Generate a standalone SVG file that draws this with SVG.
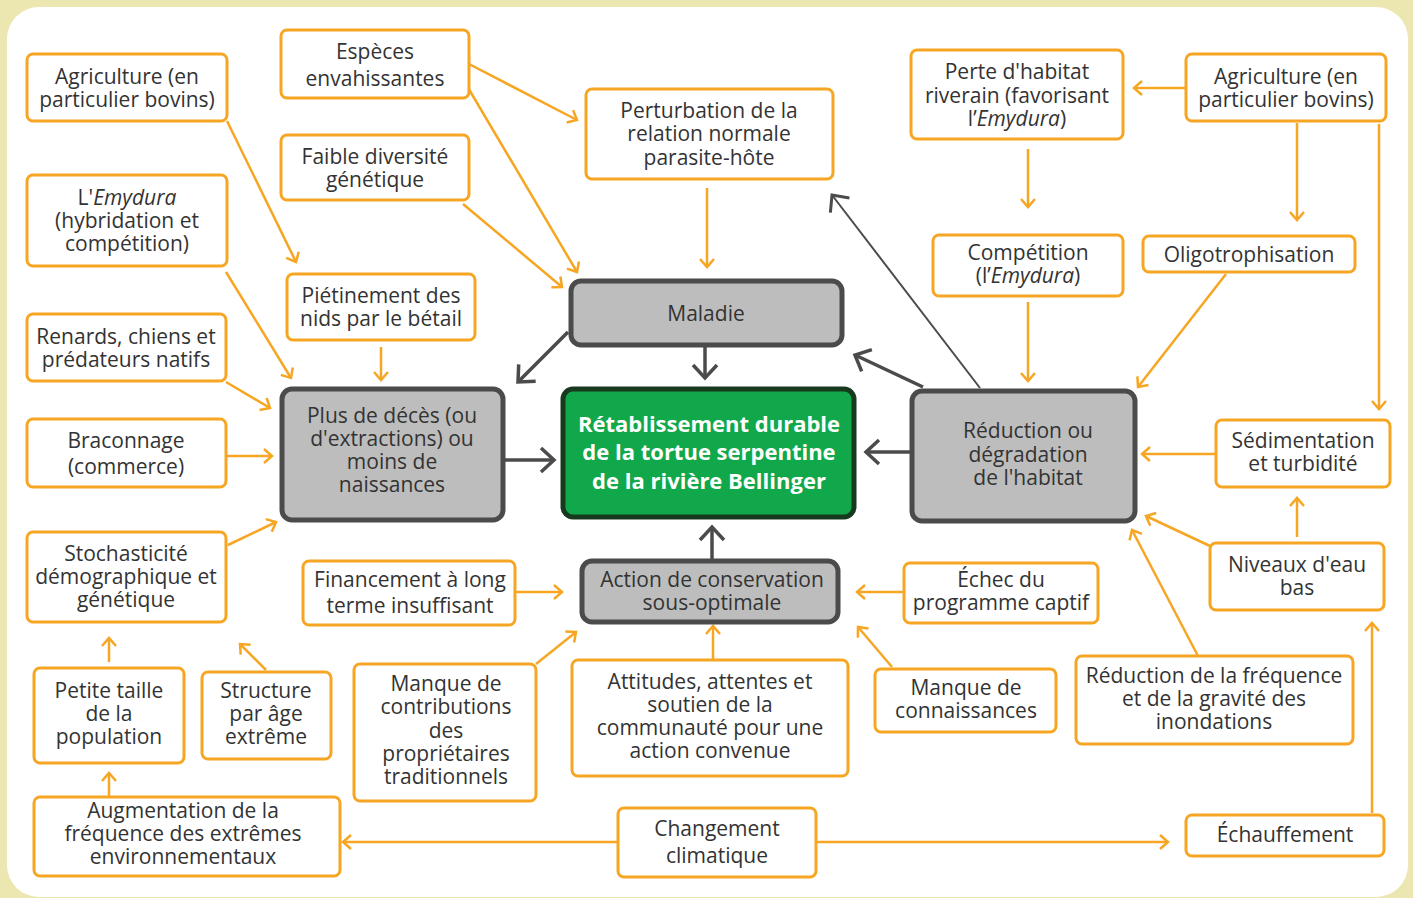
<svg xmlns="http://www.w3.org/2000/svg" width="1413" height="898" viewBox="0 0 1413 898">
<defs>
<style>
.o{fill:#fff;stroke:#f6a623;stroke-width:3}
.g{fill:#bdbdbd;stroke:#4b4b4b;stroke-width:5}
.t{font-family:"Open Sans","Noto Sans","Liberation Sans",sans-serif;font-size:21px;fill:#333;text-anchor:middle}
.tb{font-family:"Open Sans","Noto Sans","Liberation Sans",sans-serif;font-size:22px;font-weight:bold;fill:#fff;text-anchor:middle}
.co{fill:none;stroke:#f6a623;stroke-width:2.5;marker-end:url(#mo)}
.cg{fill:none;stroke:#4b4b4b;stroke-width:3.5;marker-end:url(#mg)}
.ct{fill:none;stroke:#4b4b4b;stroke-width:2;marker-end:url(#mt)}
</style>
<marker id="mo" markerUnits="userSpaceOnUse" markerWidth="20" markerHeight="20" refX="12" refY="9" orient="auto"><path d="M4,2 L12,9 L4,16" fill="none" stroke="#f6a623" stroke-width="2.5"/></marker>
<marker id="mg" markerUnits="userSpaceOnUse" markerWidth="30" markerHeight="30" refX="16" refY="14" orient="auto"><path d="M3,2 L16,14 L3,26" fill="none" stroke="#4b4b4b" stroke-width="3.5"/></marker>
<marker id="mt" markerUnits="userSpaceOnUse" markerWidth="30" markerHeight="30" refX="16" refY="14" orient="auto"><path d="M3,2 L16,14 L3,26" fill="none" stroke="#4b4b4b" stroke-width="3"/></marker>
</defs>
<rect x="0" y="0" width="1413" height="898" fill="#ece6b0"/>
<rect x="7" y="7" width="1401" height="890" rx="32" fill="#fff"/>

<g id="connectors">
<path class="co" d="M227,121 L296,262"/>
<path class="co" d="M469,64 L577,120"/>
<path class="co" d="M467,86 L577,272"/>
<path class="co" d="M463,204 L562,287"/>
<path class="co" d="M226,272 L291,378"/>
<path class="co" d="M381,347 L381,380"/>
<path class="co" d="M226,382 L270,408"/>
<path class="co" d="M226,456 L272,456"/>
<path class="co" d="M228,545 L276,522"/>
<path class="co" d="M109,662 L109,638"/>
<path class="co" d="M266,670 L240,644"/>
<path class="co" d="M109,797 L109,773"/>
<path class="co" d="M618,842 L343,842"/>
<path class="co" d="M816,842 L1168,842"/>
<path class="co" d="M516,592 L562,592"/>
<path class="co" d="M536,664 L576,632"/>
<path class="co" d="M713,660 L713,626"/>
<path class="co" d="M904,592 L857,592"/>
<path class="co" d="M892,667 L858,627"/>
<path class="co" d="M707,188 L707,267"/>
<path class="co" d="M1028,149 L1028,207"/>
<path class="co" d="M1186,88 L1134,88"/>
<path class="co" d="M1297,123 L1297,220"/>
<path class="co" d="M1379,124 L1379,409"/>
<path class="co" d="M1028,302 L1028,381"/>
<path class="co" d="M1226,274 L1138,387"/>
<path class="co" d="M1216,454 L1142,454"/>
<path class="co" d="M1297,537 L1297,498"/>
<path class="co" d="M1210,546 L1146,516"/>
<path class="co" d="M1198,656 L1132,530"/>
<path class="co" d="M1372,813 L1372,623"/>
<path class="cg" d="M568,332 L518,382"/>
<path class="cg" d="M705,347 L705,378"/>
<path class="cg" d="M505,460 L554,460"/>
<path class="cg" d="M912,452 L866,452"/>
<path class="cg" d="M712,560 L712,527"/>
<path class="cg" d="M923,387 L855,355"/>
<path class="ct" d="M980,388 L832,195"/>
</g>

<g id="agri-left"><rect class="o" x="27" y="54" width="200" height="67" rx="6"/><text class="t"><tspan x="127" y="84">Agriculture (en</tspan><tspan x="127" y="107">particulier bovins)</tspan></text></g>
<g id="emydura-left"><rect class="o" x="27" y="175" width="200" height="91" rx="6"/><text class="t"><tspan x="127" y="205">L'<tspan font-style="italic">Emydura</tspan></tspan><tspan x="127" y="228">(hybridation et</tspan><tspan x="127" y="251">compétition)</tspan></text></g>
<g id="renards"><rect class="o" x="27" y="314" width="199" height="67" rx="6"/><text class="t"><tspan x="126" y="344">Renards, chiens et</tspan><tspan x="126" y="367">prédateurs natifs</tspan></text></g>
<g id="braconnage"><rect class="o" x="27" y="419" width="199" height="68" rx="6"/><text class="t"><tspan x="126" y="448">Braconnage</tspan><tspan x="126" y="474">(commerce)</tspan></text></g>
<g id="stochasticite"><rect class="o" x="27" y="532" width="199" height="90" rx="6"/><text class="t"><tspan x="126" y="561">Stochasticité</tspan><tspan x="126" y="584">démographique et</tspan><tspan x="126" y="607">génétique</tspan></text></g>
<g id="petite-taille"><rect class="o" x="34" y="668" width="150" height="95" rx="6"/><text class="t"><tspan x="109" y="698">Petite taille</tspan><tspan x="109" y="721">de la</tspan><tspan x="109" y="744">population</tspan></text></g>
<g id="structure"><rect class="o" x="202" y="672" width="129" height="87" rx="6"/><text class="t"><tspan x="266" y="698">Structure</tspan><tspan x="266" y="721">par âge</tspan><tspan x="266" y="744">extrême</tspan></text></g>
<g id="augmentation"><rect class="o" x="34" y="797" width="306" height="79" rx="6"/><text class="t"><tspan x="183" y="818">Augmentation de la</tspan><tspan x="183" y="841">fréquence des extrêmes</tspan><tspan x="183" y="864">environnementaux</tspan></text></g>

<g id="especes"><rect class="o" x="281" y="30" width="188" height="68" rx="6"/><text class="t"><tspan x="375" y="59">Espèces</tspan><tspan x="375" y="86">envahissantes</tspan></text></g>
<g id="faible-diversite"><rect class="o" x="281" y="135" width="188" height="65" rx="6"/><text class="t"><tspan x="375" y="164">Faible diversité</tspan><tspan x="375" y="187">génétique</tspan></text></g>
<g id="pietinement"><rect class="o" x="287" y="274" width="188" height="66" rx="6"/><text class="t"><tspan x="381" y="303">Piétinement des</tspan><tspan x="381" y="326">nids par le bétail</tspan></text></g>
<g id="plus-deces"><rect class="g" x="282" y="389" width="221" height="131" rx="10"/><text class="t"><tspan x="392" y="423">Plus de décès (ou</tspan><tspan x="392" y="446">d'extractions) ou</tspan><tspan x="392" y="469">moins de</tspan><tspan x="392" y="492">naissances</tspan></text></g>
<g id="financement"><rect class="o" x="303" y="561" width="212" height="64" rx="6"/><text class="t"><tspan x="410" y="587">Financement à long</tspan><tspan x="410" y="613">terme insuffisant</tspan></text></g>
<g id="manque-contrib"><rect class="o" x="354" y="664" width="182" height="137" rx="6"/><text class="t"><tspan x="446" y="691">Manque de</tspan><tspan x="446" y="714">contributions</tspan><tspan x="446" y="738">des</tspan><tspan x="446" y="761">propriétaires</tspan><tspan x="446" y="784">traditionnels</tspan></text></g>

<g id="perturbation"><rect class="o" x="586" y="89" width="247" height="90" rx="6"/><text class="t"><tspan x="709" y="118">Perturbation de la</tspan><tspan x="709" y="141">relation normale</tspan><tspan x="709" y="165">parasite-hôte</tspan></text></g>
<g id="maladie"><rect class="g" x="571" y="281" width="271" height="64" rx="10"/><text class="t"><tspan x="706" y="321">Maladie</tspan></text></g>
<g id="retablissement"><rect x="563" y="389" width="291" height="128" rx="10" fill="#10a84b" stroke="#173a1e" stroke-width="5"/><text class="tb"><tspan x="709" y="432">Rétablissement durable</tspan><tspan x="709" y="460">de la tortue serpentine</tspan><tspan x="709" y="489">de la rivière Bellinger</tspan></text></g>
<g id="action"><rect class="g" x="582" y="561" width="256" height="61" rx="10"/><text class="t"><tspan x="712" y="587">Action de conservation</tspan><tspan x="712" y="610">sous-optimale</tspan></text></g>
<g id="attitudes"><rect class="o" x="572" y="660" width="276" height="116" rx="6"/><text class="t"><tspan x="710" y="689">Attitudes, attentes et</tspan><tspan x="710" y="712">soutien de la</tspan><tspan x="710" y="735">communauté pour une</tspan><tspan x="710" y="758">action convenue</tspan></text></g>
<g id="changement"><rect class="o" x="618" y="808" width="198" height="69" rx="6"/><text class="t"><tspan x="717" y="836">Changement</tspan><tspan x="717" y="863">climatique</tspan></text></g>

<g id="perte-habitat"><rect class="o" x="911" y="50" width="212" height="89" rx="6"/><text class="t"><tspan x="1017" y="79">Perte d'habitat</tspan><tspan x="1017" y="103">riverain (favorisant</tspan><tspan x="1017" y="126">l’<tspan font-style="italic">Emydura</tspan>)</tspan></text></g>
<g id="agri-right"><rect class="o" x="1186" y="54" width="200" height="67" rx="6"/><text class="t"><tspan x="1286" y="84">Agriculture (en</tspan><tspan x="1286" y="107">particulier bovins)</tspan></text></g>
<g id="competition"><rect class="o" x="933" y="235" width="190" height="61" rx="6"/><text class="t"><tspan x="1028" y="260">Compétition</tspan><tspan x="1028" y="283">(l’<tspan font-style="italic">Emydura</tspan>)</tspan></text></g>
<g id="oligotrophisation"><rect class="o" x="1143" y="236" width="212" height="36" rx="6"/><text class="t"><tspan x="1249" y="262">Oligotrophisation</tspan></text></g>
<g id="reduction-habitat"><rect class="g" x="912" y="391" width="223" height="130" rx="10"/><text class="t"><tspan x="1028" y="438">Réduction ou</tspan><tspan x="1028" y="462">dégradation</tspan><tspan x="1028" y="485">de l'habitat</tspan></text></g>
<g id="sedimentation"><rect class="o" x="1216" y="420" width="174" height="67" rx="6"/><text class="t"><tspan x="1303" y="448">Sédimentation</tspan><tspan x="1303" y="471">et turbidité</tspan></text></g>
<g id="niveaux"><rect class="o" x="1210" y="543" width="174" height="67" rx="6"/><text class="t"><tspan x="1297" y="572">Niveaux d'eau</tspan><tspan x="1297" y="595">bas</tspan></text></g>
<g id="echec"><rect class="o" x="904" y="563" width="194" height="60" rx="6"/><text class="t"><tspan x="1001" y="587">Échec du</tspan><tspan x="1001" y="610">programme captif</tspan></text></g>
<g id="manque-connaissances"><rect class="o" x="875" y="669" width="181" height="63" rx="6"/><text class="t"><tspan x="966" y="695">Manque de</tspan><tspan x="966" y="718">connaissances</tspan></text></g>
<g id="reduction-frequence"><rect class="o" x="1076" y="656" width="277" height="88" rx="6"/><text class="t"><tspan x="1214" y="683">Réduction de la fréquence</tspan><tspan x="1214" y="706">et de la gravité des</tspan><tspan x="1214" y="729">inondations</tspan></text></g>
<g id="echauffement"><rect class="o" x="1186" y="815" width="198" height="41" rx="6"/><text class="t"><tspan x="1285" y="842">Échauffement</tspan></text></g>
</svg>
